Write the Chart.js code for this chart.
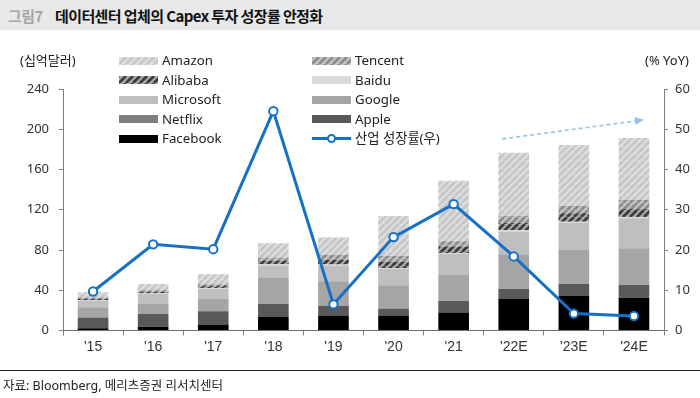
<!DOCTYPE html>
<html>
<head>
<meta charset="utf-8">
<script src="https://cdn.jsdelivr.net/npm/chart.js@4/dist/chart.umd.min.js"></script>
<style>
  html, body { margin:0; padding:0; background:#fff; }
  body { width:700px; height:398px; position:relative; overflow:hidden; font-family:"Noto Sans","Noto Sans CJK KR",sans-serif; }
  #titlebar { position:absolute; left:0; top:0; width:700px; height:30px; background:#e8e8e8; }
  #fig { position:absolute; left:8px; top:5px; font-family:"Noto Sans CJK KR"; font-weight:bold; font-size:15px; color:#a6a6a6; letter-spacing:-0.5px; }
  #title { position:absolute; left:55px; top:5px; font-family:"Noto Sans CJK KR"; font-weight:bold; font-size:15px; color:#111; letter-spacing:-0.6px; }
  canvas { position:absolute; left:0; top:0; }
  .axt { position:absolute; font-family:"Noto Sans","Noto Sans CJK KR"; font-size:13px; color:#222; white-space:nowrap; }
  .lg { position:absolute; font-family:"Noto Sans","Noto Sans CJK KR"; font-size:13.3px; color:#222; white-space:nowrap; line-height:16px; }
  .sw { position:absolute; width:39px; height:8px; }
  #srcline { position:absolute; left:0; top:370px; width:700px; height:1px; background:#222; }
  #src { position:absolute; left:3px; top:375px; font-family:"Noto Sans","Noto Sans CJK KR"; font-size:12.5px; color:#222; white-space:nowrap; }
</style>
</head>
<body>
<div id="titlebar"></div>
<div id="fig">그림7</div>
<div id="title">데이터센터 업체의 Capex 투자 성장률 안정화</div>
<canvas id="c" width="700" height="398"></canvas>
<div class="axt" style="left:20px; top:50px;">(십억달러)</div>
<div class="axt" style="left:645px; top:51px;">(% YoY)</div>
<div id="legend"></div>
<div id="srcline"></div>
<div id="src">자료: Bloomberg, 메리츠증권 리서치센터</div>
<script>
// ---- data ----
const categories = ["'15", "'16", "'17", "'18", "'19", "'20", "'21", "'22E", "'23E", "'24E"];
const facebook  = [2.2, 3.8, 6.0, 13.5, 14.8, 15.0, 18.0, 31.3, 34.3, 32.6];
const apple     = [10.6, 12.6, 13.2, 13.2, 9.8, 6.7, 11.2, 10.0, 11.9, 12.6];
const netflix   = [0.1, 0.1, 0.2, 0.2, 0.2, 0.5, 0.5, 0.4, 0.4, 0.4];
const google    = [10.2, 9.8, 12.4, 25.3, 24.1, 22.8, 25.4, 34.1, 33.4, 36.1];
const microsoft = [6.3, 9.9, 9.6, 12.5, 15.6, 16.3, 20.9, 22.5, 27.1, 29.8];
const baidu     = [0.8, 0.8, 0.9, 1.2, 1.0, 0.7, 1.0, 1.3, 1.0, 1.0];
const alibaba   = [1.4, 1.5, 2.0, 3.6, 5.0, 6.4, 6.6, 7.5, 8.3, 8.3];
const tencent   = [1.3, 1.4, 1.7, 3.0, 4.5, 5.6, 5.0, 6.6, 7.3, 9.0];
const amazon    = [5.1, 6.3, 10.0, 14.3, 17.6, 39.8, 60.3, 63.0, 60.7, 61.6];
const growth    = [9.7, 21.4, 20.2, 54.5, 6.5, 23.2, 31.4, 18.4, 4.2, 3.6];
const leftTicksMax = 240, leftStep = 40;
const rightTicksMax = 60, rightStep = 10;

// ---- patterns ----
function hatchCanvas(bg, fg, lw) {
  const s = 7;
  const c = document.createElement('canvas');
  c.width = s; c.height = s;
  const g = c.getContext('2d');
  g.fillStyle = bg; g.fillRect(0, 0, s, s);
  g.strokeStyle = fg; g.lineWidth = lw;
  g.beginPath();
  for (const o of [-s, 0, s]) { g.moveTo(o, s); g.lineTo(o + s, 0); }
  g.stroke();
  return c;
}
const ctx = document.getElementById('c').getContext('2d');
const amazonC  = hatchCanvas('#dedede', '#c6c6c6', 2.8);
const tencentC = hatchCanvas('#c4c4c4', '#8c8c8c', 2.8);
const alibabaC = hatchCanvas('#ababab', '#3c3c3c', 2.8);
const amazonP  = ctx.createPattern(amazonC, 'repeat');
const tencentP = ctx.createPattern(tencentC, 'repeat');
const alibabaP = ctx.createPattern(alibabaC, 'repeat');

const BLUE = '#1670C6';

const series = [
  { label: 'Facebook',  data: facebook,  color: '#000000' },
  { label: 'Apple',     data: apple,     color: '#595959' },
  { label: 'Netflix',   data: netflix,   color: '#7f7f7f' },
  { label: 'Google',    data: google,    color: '#a5a5a5' },
  { label: 'Microsoft', data: microsoft, color: '#bfbfbf' },
  { label: 'Baidu',     data: baidu,     color: '#d9d9d9' },
  { label: 'Alibaba',   data: alibaba,   color: alibabaP, swatch: alibabaC },
  { label: 'Tencent',   data: tencent,   color: tencentP, swatch: tencentC },
  { label: 'Amazon',    data: amazon,    color: amazonP,  swatch: amazonC }
];

const datasets = series.map(s => ({
  type: 'bar', label: s.label, data: s.data, backgroundColor: s.color,
  borderWidth: 0, yAxisID: 'y', stack: 'capex', order: 1,
  categoryPercentage: 1.0, barPercentage: 0.51
}));
datasets.push({
  type: 'line', label: '산업 성장률(우)', data: growth, yAxisID: 'y1', order: 0,
  borderColor: BLUE, borderWidth: 3, pointRadius: 4.2, pointBorderWidth: 2,
  pointBackgroundColor: '#ffffff', pointBorderColor: BLUE, tension: 0, fill: false
});

// arrow annotation (in data units: category index, right-axis %)
const arrowPlugin = {
  id: 'trendArrow',
  afterDatasetsDraw(chart) {
    const x = chart.scales.x, y = chart.scales.y1, g = chart.ctx;
    const x0 = x.getPixelForValue(6.81), y0 = y.getPixelForValue(47.6);
    const x1 = x.getPixelForValue(9.1),  y1 = y.getPixelForValue(52.2);
    g.save();
    g.strokeStyle = '#92C1EE'; g.fillStyle = '#92C1EE';
    g.lineWidth = 1.6; g.setLineDash([4, 3]);
    g.beginPath(); g.moveTo(x0, y0); g.lineTo(x1, y1); g.stroke();
    g.setLineDash([]);
    const a = Math.atan2(y1 - y0, x1 - x0), L = 9, W = 4;
    const tx = x1 + Math.cos(a) * 4, ty = y1 + Math.sin(a) * 4;
    g.beginPath();
    g.moveTo(tx, ty);
    g.lineTo(tx - L * Math.cos(a) + W * Math.sin(a), ty - L * Math.sin(a) - W * Math.cos(a));
    g.lineTo(tx - L * Math.cos(a) - W * Math.sin(a), ty - L * Math.sin(a) + W * Math.cos(a));
    g.closePath(); g.fill();
    g.restore();
  }
};

new Chart(ctx, {
  data: { labels: categories, datasets },
  plugins: [arrowPlugin],
  options: {
    responsive: false, animation: false, devicePixelRatio: 1,
    layout: { padding: { top: 89, left: 0, right: 0, bottom: 0 } },
    plugins: { legend: { display: false }, tooltip: { enabled: false } },
    scales: {
      x: {
        stacked: true, offset: true,
        grid: { display: true, drawOnChartArea: false, drawTicks: true, tickLength: 5, color: '#7f7f7f', offset: true },
        border: { display: true, color: '#6f6f6f', width: 1 },
        ticks: { color: '#333', font: { family: '"Liberation Sans Narrow", "Liberation Sans", sans-serif', size: 14 }, padding: 3, maxRotation: 0, autoSkip: false },
        afterFit(s) { s.height = 67.5; }
      },
      y: {
        stacked: true, position: 'left', min: 0, max: leftTicksMax,
        ticks: { stepSize: leftStep, color: '#333', font: { family: '"Noto Sans", sans-serif', size: 13 }, padding: 10 },
        grid: { drawOnChartArea: false, drawTicks: true, tickLength: 4, color: '#7f7f7f' },
        border: { color: '#7f7f7f' },
        afterFit(s) { s.width = 63; }
      },
      y1: {
        position: 'right', min: 0, max: rightTicksMax,
        ticks: { stepSize: rightStep, color: '#333', font: { family: '"Noto Sans", sans-serif', size: 13 }, padding: 7 },
        grid: { drawOnChartArea: false, drawTicks: true, tickLength: 4, color: '#7f7f7f' },
        border: { color: '#7f7f7f' },
        afterFit(s) { s.width = 36; }
      }
    }
  }
});

// ---- legend (two columns, Excel-style ordering) ----
const legendRows = [
  ['Amazon', 'Tencent'], ['Alibaba', 'Baidu'], ['Microsoft', 'Google'],
  ['Netflix', 'Apple'], ['Facebook', '산업 성장률(우)']
];
const legend = document.getElementById('legend');
const colX = [119, 312];
legendRows.forEach((row, r) => {
  const cy = 60.5 + r * 19.6;
  row.forEach((name, ci) => {
    const sx = colX[ci];
    const s = series.find(q => q.label === name);
    if (s) {
      const sw = document.createElement('div');
      sw.className = 'sw';
      sw.style.left = sx + 'px'; sw.style.top = (cy - 4) + 'px';
      if (s.swatch) sw.style.backgroundImage = 'url(' + s.swatch.toDataURL() + ')';
      else sw.style.background = s.color;
      legend.appendChild(sw);
    } else {
      const ln = document.createElement('div');
      ln.style.cssText = `position:absolute;left:${sx}px;top:${cy - 1.5}px;width:39px;height:3px;background:${BLUE};`;
      legend.appendChild(ln);
      const dot = document.createElement('div');
      dot.style.cssText = `position:absolute;left:${sx + 15}px;top:${cy - 4.5}px;width:5px;height:5px;border:2px solid ${BLUE};border-radius:50%;background:#fff;`;
      legend.appendChild(dot);
    }
    const t = document.createElement('div');
    t.className = 'lg';
    t.textContent = name;
    t.style.left = (sx + 43) + 'px'; t.style.top = (cy - 8.5) + 'px';
    legend.appendChild(t);
  });
});
</script>
</body>
</html>
